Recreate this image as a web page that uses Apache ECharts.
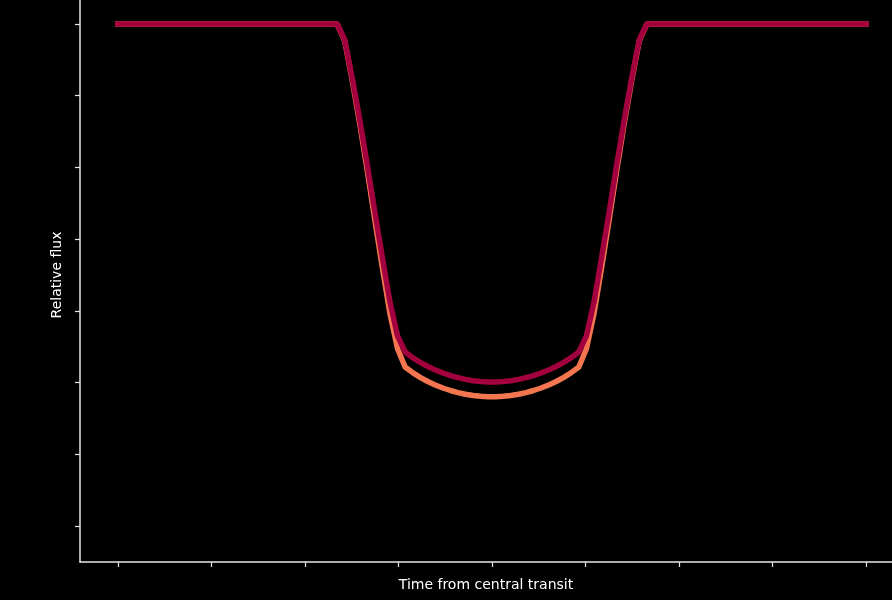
<!DOCTYPE html>
<html>
<head>
<meta charset="utf-8">
<script src="https://cdn.jsdelivr.net/npm/echarts@6/dist/echarts.min.js"></script>
<style>
html,body{margin:0;padding:0;background:#000;}
#chart{width:892px;height:600px;}
</style>
</head>
<body>
<div id="chart"></div>
<script>
// Time from central transit (arbitrary units), sample positions
var time = [-4.000,
  -1.657, -1.576, -1.495, -1.414, -1.333, -1.253, -1.172, -1.091, -1.010, -0.929,
  -0.848, -0.768, -0.687, -0.606, -0.525, -0.444, -0.364, -0.283, -0.202, -0.121, -0.040,
   0.040,  0.121,  0.202,  0.283,  0.364,  0.444,  0.525,  0.606,  0.687,  0.768,  0.848,
   0.929,  1.010,  1.091,  1.172,  1.253,  1.333,  1.414,  1.495,  1.576,  1.657,
   4.000];

// Relative flux, orange model
var fluxOrange = [1.00000,
  1.00000, 0.99977, 0.99922, 0.99861, 0.99795, 0.99727, 0.99660, 0.99596, 0.99547, 0.995216,
  0.995138, 0.995071, 0.995014, 0.994965, 0.994923, 0.994888, 0.994859, 0.994836, 0.994819, 0.994807, 0.994801,
  0.994801, 0.994807, 0.994819, 0.994836, 0.994859, 0.994888, 0.994923, 0.994965, 0.995014, 0.995071, 0.995138,
  0.995216, 0.99547, 0.99596, 0.99660, 0.99727, 0.99795, 0.99861, 0.99922, 0.99977, 1.00000,
  1.00000];

// Relative flux, magenta model
var fluxMagenta = [1.00000,
  1.00000, 0.99978, 0.99925, 0.99866, 0.99803, 0.99738, 0.99674, 0.99612, 0.99565, 0.995425,
  0.995347, 0.995280, 0.995223, 0.995174, 0.995132, 0.995096, 0.995067, 0.995043, 0.995025, 0.995013, 0.995007,
  0.995007, 0.995013, 0.995025, 0.995043, 0.995067, 0.995096, 0.995132, 0.995174, 0.995223, 0.995280, 0.995347,
  0.995425, 0.99565, 0.99612, 0.99674, 0.99738, 0.99803, 0.99866, 0.99925, 0.99978, 1.00000,
  1.00000];

var xTicks = [-4, -3, -2, -1, 0, 1, 2, 3, 4];
var yTicks = [0.993, 0.994, 0.995, 0.996, 0.997, 0.998, 0.999, 1.000];

function pairs(xs, ys) {
  var out = [];
  for (var i = 0; i < xs.length; i++) out.push([xs[i], ys[i]]);
  return out;
}

var chart = echarts.init(document.getElementById('chart'), null, {renderer: 'canvas'});
var axisColor = '#e6e6e6';
var fontFam = '"DejaVu Sans", sans-serif';
chart.setOption({
  backgroundColor: '#000000',
  animation: false,
  grid: {left: 80, right: 0, top: 0, bottom: 38, containLabel: false},
  xAxis: {
    type: 'value',
    min: -4.406, max: 4.278,
    name: 'Time from central transit',
    nameLocation: 'middle',
    nameGap: 16,
    nameTextStyle: {color: '#ffffff', fontSize: 14, fontFamily: fontFam},
    axisLine: {show: true, onZero: false, lineStyle: {color: axisColor, width: 1.5}},
    axisTick: {show: true, length: 5, customValues: xTicks, lineStyle: {color: axisColor, width: 1.2}},
    axisLabel: {show: false},
    splitLine: {show: false}
  },
  yAxis: {
    type: 'value',
    min: 0.992496, max: 1.000335,
    name: 'Relative flux',
    nameLocation: 'middle',
    nameGap: 16,
    nameRotate: 90,
    nameTextStyle: {color: '#ffffff', fontSize: 14, fontFamily: fontFam, padding: [0, 0, 0, 12]},
    axisLine: {show: true, onZero: false, lineStyle: {color: axisColor, width: 1.5}},
    axisTick: {show: true, length: 5, customValues: yTicks, lineStyle: {color: axisColor, width: 1.2}},
    axisLabel: {show: false},
    splitLine: {show: false}
  },
  series: [
    {
      type: 'line', data: pairs(time, fluxOrange), showSymbol: false, symbol: 'none',
      lineStyle: {color: '#f37651', width: 5.5, cap: 'square', join: 'round'}
    },
    {
      type: 'line', data: pairs(time, fluxMagenta), showSymbol: false, symbol: 'none',
      lineStyle: {color: '#a3003f', width: 5.5, cap: 'square', join: 'round'}
    }
  ]
});
</script>
</body>
</html>
